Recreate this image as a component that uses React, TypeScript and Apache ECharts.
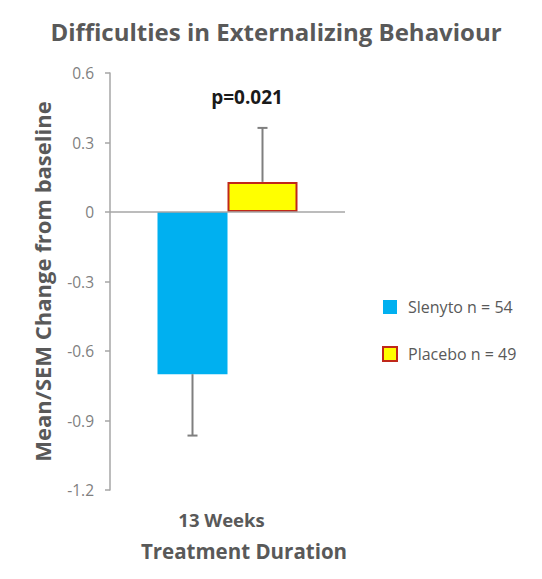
import React, { useEffect, useRef } from "react";
import * as echarts from "echarts";

const categories = ["13 Weeks"];
const seriesNames = ["Slenyto n = 54", "Placebo n = 49"];
const meanSlenyto = [-0.70];
const meanPlacebo = [0.13];
const semSlenyto = [0.265];
const semPlacebo = [0.233];
const yTicks = { min: -1.2, max: 0.6, interval: 0.3 };
const pValueText = "p=0.021";
const titleText = "Difficulties in Externalizing Behaviour";
const yAxisTitle = "Mean/SEM Change from baseline";
const xAxisTitle = "Treatment Duration";

const FONT = "'Open Sans', Lato, sans-serif";
const BAR_W = 70;

export default function App() {
  const ref = useRef<HTMLDivElement>(null);
  useEffect(() => {
    if (!ref.current) return;
    const chart = echarts.init(ref.current, null, { renderer: "svg" });
    const errData = [
      [0, meanSlenyto[0], semSlenyto[0], -1],
      [0, meanPlacebo[0], semPlacebo[0], 1],
    ];
    chart.setOption({
      animation: false,
      backgroundColor: "#ffffff",
      textStyle: { fontFamily: FONT },
      graphic: [
        {
          type: "text",
          x: 276,
          y: 31,
          style: {
            text: titleText,
            font: `bold 24px ${FONT}`,
            fill: "#595959",
            textAlign: "center",
            textVerticalAlign: "middle",
          },
        },
        {
          type: "text",
          x: 247,
          y: 97,
          style: {
            text: pValueText,
            font: `bold 19px ${FONT}`,
            fill: "#1a1a1a",
            textAlign: "center",
            textVerticalAlign: "middle",
          },
        },
      ],
      legend: {
        orient: "vertical",
        left: 377,
        top: 294,
        itemWidth: 14,
        itemHeight: 14,
        itemGap: 31,
        icon: "rect",
        data: seriesNames,
        textStyle: { color: "#595959", fontSize: 16, fontFamily: FONT, padding: [0, 0, 0, 6] },
      },
      grid: { left: 110, right: 197, top: 73, bottom: 89 },
      xAxis: {
        type: "category",
        data: categories,
        axisLine: { show: false },
        axisTick: { show: false },
        axisLabel: {
          margin: 20,
          color: "#595959",
          fontSize: 18.5,
          fontWeight: "bold",
          fontFamily: FONT,
          padding: [0, 12, 0, 0],
        },
        name: xAxisTitle,
        nameLocation: "middle",
        nameGap: 50,
        nameTextStyle: {
          color: "#595959",
          fontSize: 20.5,
          fontWeight: "bold",
          fontFamily: FONT,
          padding: [0, 0, 0, 33],
        },
      },
      yAxis: {
        type: "value",
        min: yTicks.min,
        max: yTicks.max,
        interval: yTicks.interval,
        splitLine: { show: false },
        axisLine: { show: true, lineStyle: { color: "#a6a6a6", width: 1.5 } },
        axisTick: { show: true, length: 5, lineStyle: { color: "#a6a6a6", width: 1.5 } },
        axisLabel: {
          margin: 16,
          color: "#7f7f7f",
          fontSize: 15.5,
          fontFamily: FONT,
          formatter: (v: number) => String(Math.round(v * 10) / 10),
        },
        name: yAxisTitle,
        nameLocation: "middle",
        nameGap: 57,
        nameTextStyle: {
          color: "#595959",
          fontSize: 22,
          fontWeight: "bold",
          fontFamily: FONT,
        },
      },
      series: [
        {
          name: seriesNames[0],
          type: "bar",
          data: meanSlenyto,
          barWidth: BAR_W,
          barGap: "0%",
          itemStyle: { color: "#00b0f0" },
          markLine: {
            silent: true,
            symbol: "none",
            label: { show: false },
            lineStyle: { color: "#a6a6a6", type: "solid", width: 1.5 },
            data: [{ yAxis: 0 }],
          },
        },
        {
          name: seriesNames[1],
          type: "bar",
          data: meanPlacebo,
          barWidth: BAR_W,
          barGap: "0%",
          itemStyle: { color: "#ffff00", borderColor: "#c0281a", borderWidth: 2 },
        },
        {
          type: "custom",
          z: 5,
          data: errData,
          renderItem: (params: any, api: any) => {
            const mean = api.value(1);
            const sem = api.value(2);
            const side = api.value(3);
            const dir = mean < 0 ? -1 : 1;
            const p0 = api.coord([api.value(0), mean]);
            const p1 = api.coord([api.value(0), mean + dir * sem]);
            const x = p0[0] + side * (BAR_W / 2);
            const style = { stroke: "#7f7f7f", lineWidth: 2 };
            return {
              type: "group",
              children: [
                { type: "line", shape: { x1: x, y1: p0[1], x2: x, y2: p1[1] }, style },
                { type: "line", shape: { x1: x - 5, y1: p1[1], x2: x + 5, y2: p1[1] }, style },
              ],
            };
          },
        },
      ],
    });
    return () => chart.dispose();
  }, []);
  return (
    <div
      ref={ref}
      style={{ position: "fixed", left: 0, top: 0, width: 542, height: 579 }}
    />
  );
}
